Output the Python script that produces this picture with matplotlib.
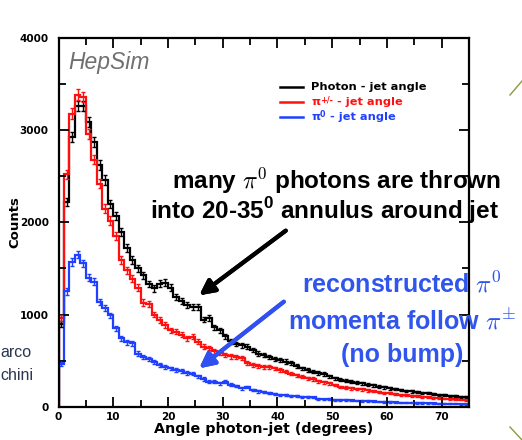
import numpy as np
import matplotlib.pyplot as plt
from matplotlib.lines import Line2D

# 1-degree bins from 0 to 75 degrees
edges = np.arange(0, 76, 1)

photon = [900, 2220, 2930, 3260, 3260, 3090, 2875, 2620, 2460, 2200,
          2070, 1900, 1720, 1590, 1500, 1425, 1330, 1285, 1335, 1345,
          1290, 1190, 1150, 1100, 1085, 1080, 945, 960, 860, 830,
          765, 710, 680, 665, 650, 615, 575, 560, 540, 520,
          505, 490, 470, 440, 415, 395, 380, 365, 355, 330,
          310, 295, 280, 270, 262, 255, 240, 232, 218, 210,
          200, 190, 180, 172, 165, 158, 150, 147, 140, 130,
          125, 118, 112, 108, 102]

pi_charged = [960, 2520, 3180, 3385, 3360, 2960, 2680, 2420, 2150, 2020,
              1850, 1590, 1480, 1390, 1290, 1130, 1110, 1000, 940, 885,
              830, 815, 780, 745, 760, 705, 650, 635, 600, 580,
              560, 545, 540, 530, 475, 450, 440, 435, 430, 415,
              400, 380, 360, 340, 325, 310, 300, 275, 265, 255,
              235, 215, 205, 200, 192, 188, 178, 172, 162, 152,
              145, 136, 128, 122, 118, 112, 108, 100, 97, 92,
              88, 84, 80, 76, 72]

pi_neutral = [460, 1250, 1570, 1650, 1555, 1400, 1355, 1140, 1070, 990,
              850, 740, 700, 690, 575, 540, 515, 485, 450, 435,
              415, 400, 385, 365, 360, 330, 300, 270, 272, 255,
              270, 240, 225, 200, 215, 180, 165, 160, 145, 138,
              128, 125, 120, 112, 108, 110, 100, 85, 80, 85,
              75, 72, 70, 68, 65, 62, 60, 58, 55, 52,
              50, 48, 45, 44, 42, 41, 40, 37, 35, 33,
              32, 30, 30, 28, 27]

plt.rcParams['mathtext.bf'] = 'Liberation Sans:bold'

W, H = 522, 440
fig = plt.figure(figsize=(W / 100, H / 100), dpi=100)
ax = fig.add_axes([58.5 / W, 1 - 406.7 / H, (469 - 58.5) / W, (406.7 - 38) / H])

centers = 0.5 * (edges[:-1] + edges[1:])
series = [(photon, 'black'), (pi_charged, '#ff1010'), (pi_neutral, '#2040ff')]
for vals, col in series:
    vals = np.array(vals, dtype=float)
    ax.stairs(vals, edges, color=col, linewidth=1.6, baseline=0)
    ax.errorbar(centers, vals, yerr=np.sqrt(vals), fmt='none', ecolor=col,
                elinewidth=1.0, capsize=1.6, capthick=1.0)

ax.set_xlim(0, 75)
ax.set_ylim(0, 4000)
ax.set_xticks(np.arange(0, 80, 10))
ax.set_xticks(np.arange(0, 76, 5), minor=True)
ax.set_yticks(np.arange(0, 4001, 1000))
ax.set_yticks(np.arange(0, 4001, 500), minor=True)
ax.tick_params(which='both', direction='in', top=True, right=True, width=1.3)
ax.tick_params(which='major', length=7)
ax.tick_params(which='minor', length=5)
ax.tick_params(axis='y', pad=7)
ax.tick_params(axis='x', pad=4)
for lab in ax.get_xticklabels() + ax.get_yticklabels():
    lab.set_fontweight('bold')
    lab.set_fontsize(7.5)
for sp in ax.spines.values():
    sp.set_linewidth(1.6)

ax.set_xlabel('Angle photon-jet (degrees)', fontsize=10.3, fontweight='bold', labelpad=0)
ax.set_ylabel('Counts', fontsize=9.5, fontweight='bold', labelpad=-1)

def fx(px):
    return px / W

def fy(py):
    return 1 - py / H

fig.text(fx(68), fy(63), 'HepSim', fontsize=16.5, style='italic', color='#707070',
         family='Liberation Sans', va='center', ha='left')

# legend drawn by hand: symbol, superscript, rest of the label
legend_rows = [('Photon - jet angle', '', '', 'black', 87),
               ('π', '+/-', ' - jet angle', '#ff1010', 102),
               ('π', '0', ' - jet angle', '#2040ff', 117)]
for head, sup, tail, col, yy in legend_rows:
    fig.add_artist(Line2D([fx(280), fx(303)], [fy(yy), fy(yy)], color=col, lw=1.8))
    t1 = fig.text(fx(311), fy(yy), head, color=col, fontsize=8.2, fontweight='bold',
                  va='center', ha='left')
    if sup:
        t2 = ax.annotate(sup, xy=(1, 0.74), xycoords=t1, color=col, fontsize=5.8,
                         fontweight='bold', va='center', ha='left')
        ax.annotate(tail, xy=(1, 0), xycoords=(t2, t1), color=col, fontsize=8.2,
                    fontweight='bold', va='bottom', ha='left')

# annotations
fig.text(fx(337), fy(181), r'many $\pi^0$ photons are thrown', fontsize=17.5,
         fontweight='bold', family='Liberation Sans', ha='center', va='center',
         math_fontfamily='cm')
fig.text(fx(324), fy(211), r'into 20-35$^{\mathbf{0}}$ annulus around jet', fontsize=17.5,
         fontweight='bold', family='Liberation Sans', ha='center', va='center',
         math_fontfamily='custom')

blue_txt = '#2f55ee'
fig.text(fx(402), fy(285), r'reconstructed $\pi^0$', fontsize=18, color=blue_txt,
         fontweight='bold', family='Liberation Sans', ha='center', va='center',
         math_fontfamily='cm')
fig.text(fx(402), fy(322), r'momenta follow $\pi^{\pm}$', fontsize=18, color=blue_txt,
         fontweight='bold', family='Liberation Sans', ha='center', va='center',
         math_fontfamily='cm')
fig.text(fx(402), fy(355), '(no bump)', fontsize=18, color=blue_txt,
         fontweight='bold', family='Liberation Sans', ha='center', va='center')

fig.add_artist(plt.annotate('', xy=(fx(197), fy(297)), xytext=(fx(288), fy(229)),
                            xycoords='figure fraction', textcoords='figure fraction',
                            arrowprops=dict(arrowstyle='-|>,head_length=0.9,head_width=0.45',
                                            color='black', lw=3)))
fig.add_artist(plt.annotate('', xy=(fx(197), fy(370)), xytext=(fx(286), fy(300)),
                            xycoords='figure fraction', textcoords='figure fraction',
                            arrowprops=dict(arrowstyle='-|>,head_length=0.9,head_width=0.45',
                                            color='#3050f0', lw=3)))

# slide leftovers at the edges
fig.text(0, fy(352), 'arco', fontsize=11.5, color='#2a3550', family='Liberation Sans',
         ha='left', va='center')
fig.text(0, fy(375), 'chini', fontsize=11.5, color='#2a3550', family='Liberation Sans',
         ha='left', va='center')
fig.add_artist(Line2D([fx(510), fx(522)], [fy(95), fy(81)], color='#8a9a40', lw=1))
fig.add_artist(Line2D([fx(510), fx(522)], [fy(427), fy(440)], color='#8a9a40', lw=1))

fig.savefig('out.png', dpi=100)
